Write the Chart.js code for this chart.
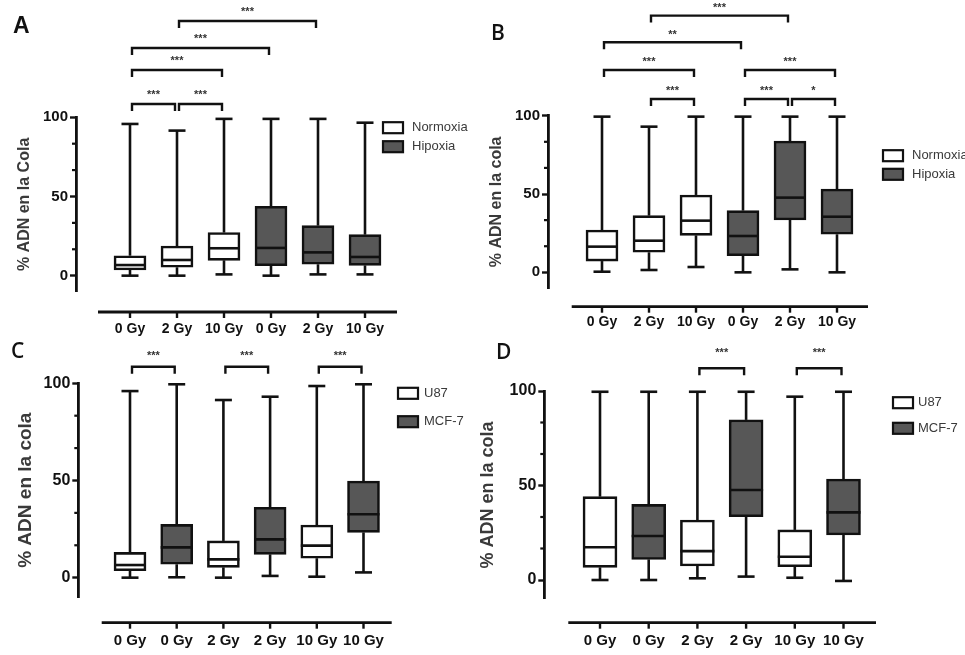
<!DOCTYPE html>
<html>
<head>
<meta charset="utf-8">
<script src="https://cdn.jsdelivr.net/npm/chart.js@4.4.0/dist/chart.umd.min.js"></script>
<style>
  body { margin: 0; background: #fff; }
  #wrap { position: relative; width: 965px; height: 655px; overflow: hidden; }
  #wrap canvas { position: absolute; left: 0; top: 0; }
</style>
</head>
<body>
<div id="wrap">
  <canvas id="chartA" width="965" height="655"></canvas>
  <canvas id="chartB" width="965" height="655"></canvas>
  <canvas id="chartC" width="965" height="655"></canvas>
  <canvas id="chartD" width="965" height="655"></canvas>
</div>
<script>
// categories / series
var doseLabelsAB = ["0 Gy", "2 Gy", "10 Gy", "0 Gy", "2 Gy", "10 Gy"];
var doseLabelsCD = ["0 Gy", "0 Gy", "2 Gy", "2 Gy", "10 Gy", "10 Gy"];
var groupAB = [0, 0, 0, 1, 1, 1];
var groupCD = [0, 1, 0, 1, 0, 1];
var seriesAB = ["Normoxia", "Hipoxia"];
var seriesCD = ["U87", "MCF-7"];
var yTicks = [0, 50, 100];
var yMinorTicks = [100 / 6, 200 / 6, 400 / 6, 500 / 6];

// A - % ADN en la cola, normoxia vs hipoxia
var aMin = [0, 0, 0.8, 0, 0.8, 0.8];
var aQ1 = [3.6, 5.3, 9.7, 6.3, 7.2, 6.5];
var aMed = [6.7, 9.9, 17.3, 17.5, 14.7, 11.8];
var aQ3 = [12.6, 18.7, 27.2, 43.8, 31.6, 25.9];
var aMax = [95.8, 91.6, 99, 99, 99, 96.6];
var aPairs = [[0, 1], [1, 2], [0, 2], [0, 3], [1, 4]];
var aMarks = ["***", "***", "***", "***", "***"];

// B
var bMin = [0.4, 1.5, 3.4, 0, 1.9, 0];
var bQ1 = [7.2, 12.8, 23.6, 10.6, 33.4, 24.3];
var bMed = [16.4, 20.2, 33, 23.2, 47.7, 35.5];
var bQ3 = [27, 36.2, 49.4, 39.4, 83.8, 53.2];
var bMax = [99.4, 93, 99.4, 99.4, 99.4, 99.4];
var bPairs = [[1, 2], [3, 4], [4, 5], [0, 2], [3, 5], [0, 3], [1, 4]];
var bMarks = ["***", "***", "*", "***", "***", "**", "***"];

// C - U87 vs MCF-7
var cMin = [0, 0.2, 0, 0.9, 0.5, 2.7];
var cQ1 = [3.6, 6.9, 5.3, 12, 10, 23.3];
var cMed = [6.5, 15.6, 9.4, 19.7, 16.5, 32.6];
var cQ3 = [13, 27.4, 18.9, 36.2, 27.1, 49.7];
var cMax = [96, 99.5, 91.4, 93.1, 98.6, 99.5];
var cPairs = [[0, 1], [2, 3], [4, 5]];
var cMarks = ["***", "***", "***"];

// D
var dMin = [0, 0, 0.9, 1.8, 1.2, -0.5];
var dQ1 = [6.7, 10.9, 7.4, 33.5, 7, 23.8];
var dMed = [17.3, 23.3, 15.3, 47.6, 12.3, 35.8];
var dQ3 = [44.1, 40, 31.7, 84.7, 26.5, 53.4];
var dMax = [99.6, 99.6, 99.6, 99.6, 97, 99.6];
var dPairs = [[2, 3], [4, 5]];
var dMarks = ["***", "***"];

var W = 965, H = 655;
var ink = "#111";
var fills = ["#ffffff", "#575757"];
var sans = "'Liberation Sans', Arial, sans-serif";

var panels = [
  { canvas: "chartA", letter: "A", title: "% ADN en la Cola",
    labels: doseLabelsAB, groups: groupAB, names: seriesAB,
    st: { min: aMin, q1: aQ1, med: aMed, q3: aQ3, max: aMax },
    pairs: aPairs, marks: aMarks, levels: [108.4, 108.4, 129.9, 143.8, 160.8],
    g: { left: 76, top: 117.3, bottom: 291.5, c0: 130, step: 47, xl: 98, xr: 397, axisY: 312,
         titleX: 25, titleSize: 16, yFont: 15, xFont: 14, xPad: 29, boxW: 32, capW: 17, starGap: 11,
         legX: 383, legY: [127.7, 146.7], legTextX: 412,
         letterX: 13, letterY: 33, letterFont: "bold 23px " + sans } },
  { canvas: "chartB", letter: "B", title: "% ADN en la cola",
    labels: doseLabelsAB, groups: groupAB, names: seriesAB,
    st: { min: bMin, q1: bQ1, med: bMed, q3: bQ3, max: bMax },
    pairs: bPairs, marks: bMarks, levels: [110.7, 110.7, 110.7, 129.2, 129.2, 146.9, 163.9],
    g: { left: 548, top: 115.7, bottom: 288, c0: 602, step: 47, xl: 571.7, xr: 868, axisY: 306.7,
         titleX: 496.7, titleSize: 16, yFont: 15, xFont: 14, xPad: 26, boxW: 32, capW: 17, starGap: 9.5,
         legX: 883, legY: [155.7, 174.3], legTextX: 912,
         letterX: 491, letterY: 40, letterFont: "600 21px 'Open Sans', sans-serif" } },
  { canvas: "chartC", letter: "C", title: "% ADN en la cola",
    labels: doseLabelsCD, groups: groupCD, names: seriesCD,
    st: { min: cMin, q1: cQ1, med: cMed, q3: cQ3, max: cMax },
    pairs: cPairs, marks: cMarks, levels: [108.5, 108.5, 108.5],
    g: { left: 78.3, top: 383.3, bottom: 597.1, c0: 130, step: 46.7, xl: 101.7, xr: 391.7, axisY: 622.7,
         titleX: 25.5, titleSize: 19, yFont: 16, xFont: 15, xPad: 34.5, boxW: 32, capW: 17, starGap: 12.4,
         legX: 398, legY: [393.3, 421.7], legTextX: 424,
         letterX: 11, letterY: 358, letterFont: "600 21px 'Open Sans', sans-serif" } },
  { canvas: "chartD", letter: "D", title: "% ADN en la cola",
    labels: doseLabelsCD, groups: groupCD, names: seriesCD,
    st: { min: dMin, q1: dQ1, med: dMed, q3: dQ3, max: dMax },
    pairs: dPairs, marks: dMarks, levels: [112, 112],
    g: { left: 544.3, top: 391, bottom: 598.9, c0: 600, step: 48.7, xl: 568.3, xr: 876, axisY: 622.7,
         titleX: 488.5, titleSize: 18, yFont: 16, xFont: 15, xPad: 32.7, boxW: 34, capW: 17, starGap: 17.6,
         legX: 893, legY: [402.7, 428.3], legTextX: 918,
         letterX: 496, letterY: 359, letterFont: "600 21px 'Open Sans', sans-serif" } }
];

function seg(ctx, x1, y1, x2, y2) {
  ctx.beginPath();
  ctx.moveTo(x1, y1);
  ctx.lineTo(x2, y2);
  ctx.stroke();
}

function boxPlugin(p) {
  var g = p.g, st = p.st;
  return {
    id: "box" + p.letter,
    // whiskers go under the boxes
    beforeDatasetsDraw: function (chart) {
      var ctx = chart.ctx, xs = chart.scales.x, ys = chart.scales.y;
      ctx.save();
      ctx.strokeStyle = ink;
      ctx.lineWidth = 2.6;
      p.labels.forEach(function (l, i) {
        var x = xs.getPixelForValue(i), h = g.capW / 2;
        var yMax = ys.getPixelForValue(st.max[i]), yMin = ys.getPixelForValue(st.min[i]);
        seg(ctx, x, yMax, x, ys.getPixelForValue(st.q3[i]));
        seg(ctx, x, ys.getPixelForValue(st.q1[i]), x, yMin);
        seg(ctx, x - h, yMax, x + h, yMax);
        seg(ctx, x - h, yMin, x + h, yMin);
      });
      ctx.restore();
    },
    afterDatasetsDraw: function (chart) {
      var ctx = chart.ctx, xs = chart.scales.x, ys = chart.scales.y;
      ctx.save();
      ctx.strokeStyle = ink;
      ctx.lineWidth = 2.6;
      p.labels.forEach(function (l, i) {
        var x = xs.getPixelForValue(i), y = ys.getPixelForValue(st.med[i]);
        seg(ctx, x - g.boxW / 2, y, x + g.boxW / 2, y);
      });
      ctx.restore();
    },
    afterDraw: function (chart) {
      var ctx = chart.ctx, xs = chart.scales.x, ys = chart.scales.y, area = chart.chartArea;
      ctx.save();
      ctx.strokeStyle = ink;
      ctx.fillStyle = ink;

      // minor y ticks
      ctx.lineWidth = 2.2;
      yMinorTicks.forEach(function (v) {
        var y = ys.getPixelForValue(v);
        seg(ctx, area.left - 4, y, area.left, y);
      });

      // detached x axis line + ticks
      ctx.lineWidth = 2.8;
      seg(ctx, g.xl, g.axisY, area.right, g.axisY);
      ctx.lineWidth = 2.4;
      p.labels.forEach(function (l, i) {
        var x = xs.getPixelForValue(i);
        seg(ctx, x, g.axisY, x, g.axisY + 6);
      });

      // significance brackets
      ctx.lineWidth = 2.4;
      ctx.font = "bold 11px " + sans;
      ctx.textAlign = "center";
      ctx.textBaseline = "middle";
      p.pairs.forEach(function (pr, k) {
        var x1 = xs.getPixelForValue(pr[0]) + 2, x2 = xs.getPixelForValue(pr[1]) - 2;
        var y = ys.getPixelForValue(p.levels[k]);
        ctx.beginPath();
        ctx.moveTo(x1, y + 7);
        ctx.lineTo(x1, y);
        ctx.lineTo(x2, y);
        ctx.lineTo(x2, y + 7);
        ctx.stroke();
        ctx.fillStyle = "#333";
        ctx.fillText(p.marks[k], (x1 + x2) / 2, y - g.starGap + 2);
      });

      // legend
      ctx.textAlign = "left";
      ctx.font = "13px " + sans;
      p.names.forEach(function (name, s) {
        var y = g.legY[s];
        ctx.fillStyle = fills[s];
        ctx.fillRect(g.legX, y - 5.5, 20, 11);
        ctx.lineWidth = 2.2;
        ctx.strokeStyle = ink;
        ctx.strokeRect(g.legX, y - 5.5, 20, 11);
        ctx.fillStyle = "#3a3a3a";
        ctx.fillText(name, g.legTextX, y);
      });

      // panel letter
      ctx.fillStyle = ink;
      ctx.textBaseline = "alphabetic";
      ctx.font = g.letterFont;
      ctx.fillText(p.letter, g.letterX, g.letterY);
      ctx.restore();
    }
  };
}

function makePanel(p) {
  var g = p.g;
  var xMin = (g.left - g.c0) / g.step;
  var xMax = (g.xr - g.c0) / g.step;
  var padLeft = g.titleX - 0.6 * g.titleSize;
  var yWidth = g.left - padLeft;
  var xHeight = H - g.bottom;
  var datasets = p.names.map(function (name, s) {
    var pts = [];
    p.labels.forEach(function (l, i) {
      if (p.groups[i] === s) pts.push({ x: i, y: [p.st.q1[i], p.st.q3[i]] });
    });
    return {
      label: name,
      data: pts,
      backgroundColor: fills[s],
      borderColor: ink,
      borderWidth: 2.6,
      borderSkipped: false,
      barThickness: g.boxW,
      grouped: false
    };
  });

  new Chart(p.canvas, {
    type: "bar",
    data: { datasets: datasets },
    options: {
      responsive: false,
      animation: false,
      events: [],
      layout: { padding: { left: padLeft, top: g.top, right: W - g.xr, bottom: 0 } },
      plugins: { legend: { display: false }, tooltip: { enabled: false } },
      scales: {
        x: {
          type: "linear",
          offset: false,
          min: xMin,
          max: xMax,
          grid: { display: false, drawTicks: false },
          border: { display: false },
          afterBuildTicks: function (s) {
            s.ticks = p.labels.map(function (l, i) { return { value: i }; });
          },
          afterFit: function (s) { s.height = xHeight; },
          ticks: {
            autoSkip: false,
            maxRotation: 0,
            padding: g.xPad,
            color: ink,
            font: { family: sans, size: g.xFont, weight: "bold" },
            callback: function (v) { return p.labels[v]; }
          }
        },
        y: {
          min: -10,
          max: 100,
          afterBuildTicks: function (s) {
            s.ticks = yTicks.map(function (v) { return { value: v }; });
          },
          afterFit: function (s) { s.width = yWidth; },
          grid: { display: true, drawOnChartArea: false, drawTicks: true, tickLength: 6, tickWidth: 2.4, tickColor: ink },
          border: { display: true, width: 2.8, color: ink },
          ticks: { padding: 2, color: ink, font: { family: sans, size: g.yFont, weight: "bold" } },
          title: {
            display: true,
            text: p.title,
            padding: 0,
            color: "#3a3a3a",
            font: { family: sans, size: g.titleSize, weight: "bold" }
          }
        }
      }
    },
    plugins: [boxPlugin(p)]
  });
}

panels.forEach(makePanel);
</script>
</body>
</html>
